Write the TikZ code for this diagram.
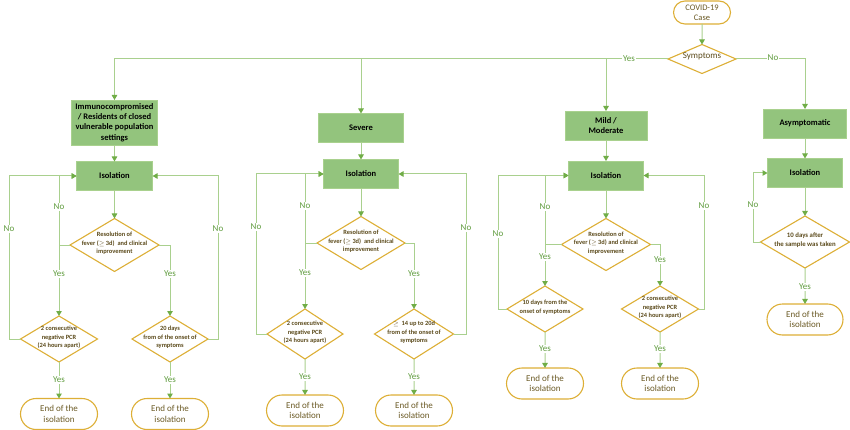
\documentclass[tikz,border=0pt]{standalone}
\usepackage{fontspec}
\setmainfont{Carlito}
\usepackage{tikz}
\usetikzlibrary{arrows.meta,shapes.geometric,shapes.misc}

\definecolor{boxgreen}{HTML}{93C47D}
\definecolor{boxedge}{HTML}{A9D18E}
\definecolor{linegreen}{HTML}{A9D08E}
\definecolor{tipgreen}{HTML}{70AD47}
\definecolor{gold}{HTML}{DDAF36}
\definecolor{dtextcol}{HTML}{5C4B1C}
\definecolor{ttextcol}{HTML}{6B5A25}
\definecolor{lblgreen}{HTML}{5E9B3C}

\newcommand{\dtext}[1]{\makebox[0pt]{\smash{\begin{tabular}{@{}c@{}}#1\end{tabular}}}}

\tikzset{
  greenbox/.style={rectangle, fill=boxgreen, draw=boxedge, line width=0.6pt, inner sep=1pt, outer sep=0pt, align=center, text=black, font=\fontsize{8.5}{10.4}\selectfont\bfseries},
  decision/.style={diamond, draw=gold, line width=1.1pt, fill=white, inner sep=0pt, outer sep=0pt, text=dtextcol, font=\fontsize{6.4}{8.4}\selectfont\bfseries},
  terminal/.style={rounded rectangle, draw=gold, line width=1.1pt, fill=white, minimum width=77pt, minimum height=31pt, inner sep=0pt, outer sep=0pt, align=center, text=ttextcol, font=\fontsize{9}{10.3}\selectfont},
  link/.style={draw=linegreen, line width=1pt},
  flow/.style={link, -{Triangle[length=5pt,width=5.5pt,color=tipgreen]}},
  lbl/.style={fill=white, inner sep=0.8pt, text=lblgreen, font=\fontsize{9}{10}\selectfont},
}

\begin{document}
\begin{tikzpicture}[x=1pt,y=-1pt]
\useasboundingbox (0,0) rectangle (850,430);

\node[terminal, minimum width=57pt, minimum height=23pt, font=\fontsize{8.5}{10.3}\selectfont] (case) at (702,12.5) {COVID-19\\Case};
\node[decision, minimum width=68pt, minimum height=29pt, font=\fontsize{9}{10}\selectfont] (sym) at (702,59) {\dtext{Symptoms}};

\node[greenbox, minimum width=86pt, minimum height=45pt] (immuno) at (114.5,122.5) {Immunocompromised\\/ Residents of closed\\vulnerable population\\settings};
\node[greenbox, minimum width=76pt, minimum height=29pt] (iso1) at (114.5,176) {Isolation};
\node[decision, minimum width=89pt, minimum height=53pt] (res1) at (114.5,245) {\dtext{Resolution of\\fever ($\geq$ 3d)~ and clinical\\improvement}};
\node[decision, minimum width=77pt, minimum height=46pt] (pcr1) at (59,339) {\dtext{2 consecutive\\negative PCR\\(24 hours apart)}};
\node[decision, minimum width=76pt, minimum height=46pt] (d20) at (170,339) {\dtext{20 days\\from of the onset of\\symptoms}};
\node[terminal] (end1a) at (59,414) {End of the\\isolation};
\node[terminal] (end1b) at (170,414) {End of the\\isolation};

\node[greenbox, minimum width=85pt, minimum height=29pt] (severe) at (361,128) {Severe};
\node[greenbox, minimum width=75pt, minimum height=29pt] (iso2) at (361,174) {Isolation};
\node[decision, minimum width=88pt, minimum height=53pt] (res2) at (361,243) {\dtext{Resolution of\\fever ($\geq$ 3d)~ and clinical\\improvement}};
\node[decision, minimum width=76pt, minimum height=50pt] (pcr2) at (305,334) {\dtext{2 consecutive\\negative PCR\\(24 hours apart)}};
\node[decision, minimum width=79pt, minimum height=50pt] (d14) at (414,334) {\dtext{$\geq$~ 14 up to 20d\\from of the onset of\\symptoms}};
\node[terminal] (end2a) at (305,410.5) {End of the\\isolation};
\node[terminal] (end2b) at (414,410.5) {End of the\\isolation};

\node[greenbox, minimum width=82pt, minimum height=29pt] (mild) at (606,125.5) {Mild /\\Moderate};
\node[greenbox, minimum width=75pt, minimum height=29pt] (iso3) at (606,175.5) {Isolation};
\node[decision, minimum width=89pt, minimum height=52pt] (res3) at (606,244.5) {\dtext{Resolution of\\fever ($\geq$ 3d) and clinical\\improvement}};
\node[decision, minimum width=76pt, minimum height=46pt] (d10) at (545,309) {\dtext{10 days from the\\onset of symptoms}};
\node[decision, minimum width=77pt, minimum height=46pt] (pcr3) at (660,309) {\dtext{2 consecutive\\negative PCR\\(24 hours apart)}};
\node[terminal] (end3a) at (545,383.5) {End of the\\isolation};
\node[terminal] (end3b) at (660,383.5) {End of the\\isolation};

\node[greenbox, minimum width=83pt, minimum height=29pt] (asym) at (805,123.5) {Asymptomatic};
\node[greenbox, minimum width=75pt, minimum height=29pt] (iso4) at (805,173) {Isolation};
\node[decision, minimum width=89pt, minimum height=52pt, font=\fontsize{6.8}{9}\selectfont\bfseries] (samp) at (805,242) {\dtext{10 days after\\the sample was taken}};
\node[terminal, minimum width=76pt] (end4) at (805,319.5) {End of the\\isolation};

\coordinate (o1) at (9,339);
\coordinate (r1) at (218,339);
\coordinate (o2) at (256,334);
\coordinate (r2) at (466,334);
\coordinate (o3) at (498,309);
\coordinate (r3) at (704,309);
\coordinate (o4) at (753,242);

\draw[flow] (case) -- (sym);
\draw[flow] (sym.west) -| (immuno.north);
\draw[flow] (sym.west -| severe.north) -- (severe.north);
\draw[flow] (sym.west -| mild.north) -- (mild.north);
\draw[flow] (sym.east) -| (asym.north);

\draw[flow] (immuno) -- (iso1);
\draw[flow] (iso1) -- (res1);
\draw[flow] (res1.west) -| (pcr1.north);
\draw[flow] (res1.west -| pcr1.north) |- (iso1.west);
\draw[flow] (res1.east) -| (d20.north);
\draw[flow] (pcr1.west) -- (o1) |- (iso1.west);
\draw[flow] (d20.east) -- (r1) |- (iso1.east);
\draw[flow] (pcr1) -- (end1a);
\draw[flow] (d20) -- (end1b);

\draw[flow] (severe) -- (iso2);
\draw[flow] (iso2) -- (res2);
\draw[flow] (res2.west) -| (pcr2.north);
\draw[flow] (res2.west -| pcr2.north) |- (iso2.west);
\draw[flow] (res2.east) -| (d14.north);
\draw[flow] (pcr2.west) -- (o2) |- (iso2.west);
\draw[flow] (d14.east) -- (r2) |- (iso2.east);
\draw[flow] (pcr2) -- (end2a);
\draw[flow] (d14) -- (end2b);

\draw[flow] (mild) -- (iso3);
\draw[flow] (iso3) -- (res3);
\draw[flow] (res3.west) -| (d10.north);
\draw[flow] (res3.west -| d10.north) |- (iso3.west);
\draw[flow] (res3.east) -| (pcr3.north);
\draw[flow] (d10.west) -- (o3) |- (iso3.west);
\draw[flow] (pcr3.east) -- (r3) |- (iso3.east);
\draw[flow] (d10) -- (end3a);
\draw[flow] (pcr3) -- (end3b);

\draw[flow] (asym) -- (iso4);
\draw[flow] (iso4) -- (samp);
\draw[flow] (samp.west) -- (o4) |- (iso4.west);
\draw[flow] (samp) -- (end4);

\node[lbl] (ysym) at (629,59) {Yes};
\node[lbl] (nsym) at (773,58) {No};

\node[lbl] (n1a) at (59,207) {No};
\node[lbl] (n1b) at (9,229) {No};
\node[lbl] (n1c) at (218,229) {No};
\node[lbl] (y1a) at (59,274) {Yes};
\node[lbl] (y1b) at (170,274) {Yes};
\node[lbl] (y1c) at (59,380) {Yes};
\node[lbl] (y1d) at (170,380) {Yes};

\node[lbl] (n2a) at (305,206) {No};
\node[lbl] (n2b) at (256,227) {No};
\node[lbl] (n2c) at (466,228) {No};
\node[lbl] (y2a) at (305,273) {Yes};
\node[lbl] (y2b) at (414,274) {Yes};
\node[lbl] (y2c) at (305,377) {Yes};
\node[lbl] (y2d) at (414,377) {Yes};

\node[lbl] (n3a) at (545,207) {No};
\node[lbl] (n3b) at (498,234) {No};
\node[lbl] (n3c) at (704,206) {No};
\node[lbl] (y3a) at (545,257) {Yes};
\node[lbl] (y3b) at (660,260) {Yes};
\node[lbl] (y3c) at (545,349) {Yes};
\node[lbl] (y3d) at (660,349) {Yes};

\node[lbl] (n4a) at (753,205) {No};
\node[lbl] (y4a) at (805,287) {Yes};
\end{tikzpicture}
\end{document}
